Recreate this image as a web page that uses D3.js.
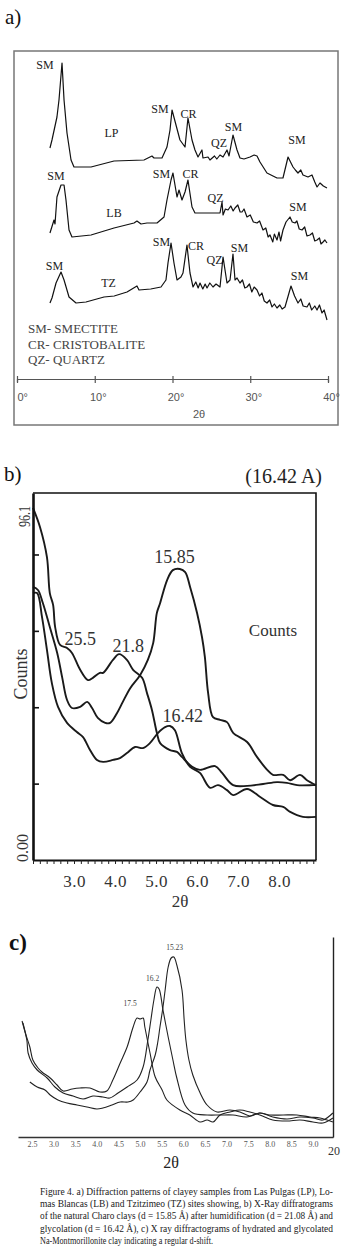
<!DOCTYPE html>
<html>
<head>
<meta charset="utf-8">
<script src="https://cdn.jsdelivr.net/npm/d3@7.9.0/dist/d3.min.js"></script>
<style>
  body { margin: 0; background: #fff; }
  svg { display: block; }
</style>
</head>
<body>
<svg id="fig"></svg>
<script>
// ---------- data: panel a (2theta in degrees, intensity in arbitrary stacked units) ----------
const lpTrace = [[4.24,91],[4.50,95],[5.14,106.5],[5.40,115],[5.79,133.5],[6.05,115],[6.43,98.5],[6.95,85],[7.33,81.5],[9.52,81.5],[12.48,84.5],[16.33,85],[17.36,87],[17.62,86],[18.65,86],[19.29,91.5],[19.68,100],[19.94,110],[20.96,95],[21.61,91.5],[21.99,106],[22.51,95],[22.89,90],[23.28,86.5],[23.79,90],[23.92,86],[24.57,86.5],[24.82,85],[25.4,87],[25.7,85.5],[26.11,87.5],[26.50,86.5],[27.01,90],[27.27,87],[27.78,97.5],[28.30,90],[28.68,86],[29.2,85.5],[29.97,86.5],[30.5,87.5],[30.87,87],[31.25,84],[32.15,78.5],[33.44,76],[34.21,76],[34.86,86.5],[35.50,81.5],[35.8,80],[36.14,78.5],[36.5,80],[36.78,77.5],[37.43,76.5],[37.94,77.5],[38.3,74],[38.59,71.5],[38.97,73.5],[39.4,72],[39.87,71]];
const lbTrace = [[4.24,48.5],[4.76,55],[4.89,53],[5.14,66.5],[5.66,72.5],[6.05,72.5],[6.30,65],[6.69,50],[7.07,46.5],[9.52,47.5],[12.48,51],[15.05,53.5],[15.43,54.5],[15.95,53],[16.72,53.5],[18.01,53.5],[18.91,56.5],[19.29,65],[19.81,75],[20.06,78.5],[20.58,66.5],[20.84,70],[21.22,65],[21.61,69],[21.99,75],[22.51,61.5],[22.89,58.5],[23.54,58.5],[24.44,58.5],[25.21,58.5],[26.11,58.5],[26.37,64],[26.50,57.5],[26.8,60.5],[27.14,60],[27.5,62],[27.8,59.5],[28.04,61],[28.4,62.5],[28.7,59],[28.94,59],[29.2,60.5],[29.58,56.5],[30.0,57.5],[30.4,54],[30.87,53.5],[31.2,54.5],[31.64,50],[32.0,51],[32.3,46.5],[32.54,47.5],[32.9,44],[33.1,48],[33.44,45],[33.7,49],[33.9,44.5],[34.21,50],[34.6,54],[35.11,56.5],[35.4,54],[35.76,53.5],[36.0,54.5],[36.3,50.5],[36.66,50],[37.0,51.5],[37.3,47],[37.68,47.5],[38.0,48.5],[38.3,44.5],[38.59,45],[38.9,46],[39.1,43],[39.36,44],[39.6,45],[39.87,43.5]];
const tzTrace = [[4.24,13.5],[4.50,16],[5.02,23.5],[5.66,29],[6.05,25],[6.69,16.5],[7.59,13.5],[8.87,14],[11.19,16.5],[12.5,17],[14.15,19],[15.43,22],[15.69,20],[17.2,20.5],[18.52,21.5],[19.16,25],[19.42,33.5],[19.81,43.5],[20.19,33.5],[20.58,25],[21.09,26.5],[21.35,28.5],[21.86,42.5],[22.25,28.5],[22.64,21.5],[23.0,24],[23.3,21],[23.54,23.5],[23.9,20.5],[24.2,23],[24.44,21],[24.8,23.5],[25.21,21.5],[25.6,23],[26.11,21.5],[26.50,36.5],[27.01,23.5],[27.40,25],[27.78,38],[28.04,25],[28.3,26],[28.68,23.5],[29.0,25],[29.3,21],[29.58,21.5],[29.9,23],[30.2,19],[30.5,21.5],[30.87,20],[31.2,17],[31.5,18.5],[31.8,14.5],[32.15,13.5],[32.5,15],[32.8,11.5],[33.1,13],[33.44,11],[33.8,12.5],[34.1,10.5],[34.47,11.5],[35.24,22],[35.7,17],[36.14,13.5],[36.5,15.5],[36.8,12],[37.30,11.5],[37.6,13.5],[37.9,10],[38.3,12],[38.59,10],[38.9,12.5],[39.23,8.5],[39.5,10],[39.87,5]];
const aPeakLabels = [["SM",3.60,130.5],["LP",12.15,96.5],["SM",18.39,108.5],["CR",22.06,106],["QZ",25.98,91.5],["SM",27.85,99.5],["SM",36.01,93],
  ["SM",5.02,75],["LB",12.48,56.5],["SM",18.59,76],["CR",22.32,76],["QZ",25.53,64],["SM",36.14,59.5],
  ["SM",4.82,30],["TZ",11.77,21.5],["SM",18.59,42],["CR",23.02,40],["QZ",25.40,33],["SM",28.62,39],["SM",36.33,25]];
const aLegend = ["SM- SMECTITE", "CR- CRISTOBALITE", "QZ- QUARTZ"];
const aTicks = [0, 10, 20, 30, 40];

// ---------- data: panel b (2theta, counts) ----------
const bHydrated = [[2.00,92.2],[2.17,87.2],[2.34,79.3],[2.41,69.9],[2.49,66.8],[2.54,61.0],[2.66,56.3],[2.83,55.5],[2.95,54.2],[3.15,49.8],[3.34,47.1],[3.46,47.7],[3.63,49.0],[3.71,49.0],[3.95,52.4],[4.10,53.9],[4.29,52.4],[4.44,49.8],[4.66,47.7],[4.78,43.7],[4.90,39.3],[5.02,33.3],[5.10,30.6],[5.34,28.8],[5.51,28.3],[5.63,27.0],[5.88,24.4],[6.07,23.6],[6.44,24.6],[6.61,22.8],[6.88,19.6],[7.22,19.4],[7.61,19.9],[7.95,20.4],[8.19,20.2],[8.44,19.6],[8.83,19.6],[8.90,19.6]];
const bNatural = [[2.00,71.5],[2.12,70.7],[2.24,67.3],[2.41,61.0],[2.59,54.2],[2.71,47.9],[2.83,41.9],[2.95,39.8],[3.15,40.1],[3.32,41.4],[3.44,39.8],[3.58,37.2],[3.76,35.9],[3.88,35.9],[4.05,38.5],[4.19,41.4],[4.37,45.0],[4.61,48.4],[4.80,52.4],[4.93,56.8],[5.02,64.7],[5.10,67.3],[5.27,73.3],[5.41,75.9],[5.58,76.2],[5.71,75.4],[5.83,71.5],[6.00,64.7],[6.12,58.4],[6.19,53.2],[6.27,43.7],[6.39,37.4],[6.56,36.7],[6.73,36.1],[6.88,33.3],[7.22,30.9],[7.46,27.0],[7.71,23.6],[7.85,22.3],[8.10,22.3],[8.27,20.9],[8.51,22.3],[8.68,20.9],[8.90,19.6]];
const bGlycol = [[2.00,69.9],[2.10,69.9],[2.22,63.6],[2.34,55.0],[2.46,46.3],[2.61,40.1],[2.83,35.9],[3.07,33.5],[3.22,32.2],[3.39,28.8],[3.56,26.2],[3.71,25.7],[3.95,26.2],[4.12,26.7],[4.29,28.0],[4.49,29.6],[4.68,29.3],[4.85,30.6],[5.05,33.3],[5.22,34.8],[5.34,35.1],[5.46,34.0],[5.63,28.0],[5.83,24.4],[6.07,22.8],[6.32,18.9],[6.51,19.6],[6.73,18.3],[6.88,17.0],[7.22,18.6],[7.54,16.5],[7.85,14.4],[8.10,13.9],[8.27,12.6],[8.58,11.3],[8.90,11.3]];
const bPeakLabels = [["15.85",5.45,77.8],["25.5",3.15,56.3],["21.8",4.32,54.5],["16.42",5.65,36.1]];
const bTicks = [3, 4, 5, 6, 7, 8];
const bCountTicks = [20, 40, 60, 80];

// ---------- data: panel c (2theta, intensity) ----------
const c175 = [[2.27,58],[2.36,51],[2.45,45],[2.52,38.5],[2.64,34.5],[2.73,32.5],[2.92,29.5],[3.08,26],[3.22,23],[3.43,24],[3.61,24.5],[3.84,24.5],[4.07,22.5],[4.23,23],[4.37,28.5],[4.54,37],[4.70,45],[4.84,55],[4.93,59.5],[5.00,59],[5.07,59.5],[5.11,55],[5.23,42],[5.35,30],[5.51,23.5],[5.62,18.5],[5.92,13.5],[6.15,11],[6.39,7.5],[6.55,8.5],[6.69,7.5],[6.85,11],[7.08,12.5],[7.31,13.5],[7.54,12.5],[7.77,11],[8.07,8.5],[8.40,8],[8.70,8.5],[9.00,7.5],[9.23,7],[9.46,9.5]];
const c162 = [[2.29,57],[2.38,48.5],[2.41,42],[2.50,37],[2.62,33.5],[2.85,29.5],[3.03,25],[3.22,22],[3.45,20.5],[3.68,19],[3.91,20.5],[4.14,20],[4.30,19.5],[4.49,22],[4.70,25],[4.93,28.5],[5.07,35],[5.18,48.5],[5.25,58.5],[5.32,68.5],[5.39,75],[5.44,74],[5.53,63.5],[5.65,50],[5.76,38.5],[5.85,29.5],[6.04,16],[6.22,12],[6.55,11],[6.85,11],[7.15,11],[7.47,10],[7.77,12],[8.07,10],[8.40,9],[8.70,10],[9.00,9.5],[9.23,8.5],[9.46,12]];
const c1523 = [[2.45,27.5],[2.62,25],[2.80,23.5],[2.92,21],[3.10,18.5],[3.31,17],[3.54,16],[3.77,15],[4.00,14],[4.14,14.5],[4.35,16],[4.54,17.5],[4.72,17.5],[4.84,18.5],[5.00,22.5],[5.16,27.5],[5.23,33.5],[5.35,41],[5.41,47.5],[5.46,55],[5.53,65],[5.58,73.5],[5.65,85],[5.72,89.5],[5.78,90],[5.85,86],[5.97,73.5],[6.02,58.5],[6.06,48.5],[6.13,38.5],[6.22,31],[6.39,22],[6.55,16],[6.78,12.5],[7.08,13.5],[7.31,12.5],[7.54,10.5],[7.77,12],[8.00,11],[8.31,11],[8.63,11],[8.93,10],[9.16,9.5],[9.46,7.5]];
const cPeakLabels = [["15.23",5.80,93.5],["16.2",5.29,78],["17.5",4.77,65.5]];
const cTicks = [2.5,3.0,3.5,4.0,4.5,5.0,5.5,6.0,6.5,7.0,7.5,8.0,8.5,9.0];

const captionLines = [
  "Figure 4. a) Diffraction patterns of clayey samples from Las Pulgas (LP), Lo-",
  "mas Blancas (LB) and Tzitzimeo (TZ) sites showing, b) X-Ray diffratograms",
  "of the natural Charo clays (d = 15.85 Å) after humidification (d = 21.08 Å) and",
  "glycolation (d = 16.42 Å), c) X ray diffractograms of hydrated and glycolated",
  "Na-Montmorillonite clay indicating a regular d-shift."
];

// ---------- setup ----------
const serif = "'Liberation Serif', 'Times New Roman', serif";
const sans = "'Liberation Sans', Arial, sans-serif";

const svg = d3.select("#fig").attr("width", 349).attr("height", 1257);

// panel letters
svg.append("text").attr("x", 5).attr("y", 24).text("a)")
  .attr("font-family", serif).attr("font-size", 21).attr("fill", "#111");
svg.append("text").attr("x", 4).attr("y", 481).text("b)")
  .attr("font-family", serif).attr("font-size", 21).attr("fill", "#111");
svg.append("text").attr("x", 9).attr("y", 950).text("c)")
  .attr("font-family", serif).attr("font-size", 23).attr("font-weight", "bold").attr("fill", "#111");

// ================= panel a =================
const xA = d3.scaleLinear().domain([0, 40]).range([17, 328]);
const yA = d3.scaleLinear().domain([0, 140]).range([330, 50]);

svg.append("rect")
  .attr("x", 14).attr("y", 51).attr("width", 324).attr("height", 374)
  .attr("fill", "none").attr("stroke", "#777").attr("stroke-width", 1.5);

const lineA = d3.line().x(d => xA(d[0])).y(d => yA(d[1]));
[lpTrace, lbTrace, tzTrace].forEach(tr => {
  svg.append("path").datum(tr)
    .attr("d", lineA)
    .attr("fill", "none").attr("stroke", "#111").attr("stroke-width", 1.2)
    .attr("stroke-linejoin", "round");
});

svg.append("g").selectAll("text")
  .data(aPeakLabels)
  .enter().append("text")
  .attr("x", d => xA(d[1]))
  .attr("y", d => yA(d[2]))
  .attr("text-anchor", "middle")
  .attr("font-family", serif).attr("font-size", 12).attr("fill", "#222")
  .text(d => d[0]);

svg.append("g").selectAll("text")
  .data(aLegend)
  .enter().append("text")
  .attr("x", 28)
  .attr("y", (d, i) => 333 + i * 15.5)
  .attr("font-family", serif).attr("font-size", 13).attr("fill", "#444")
  .text(d => d);

const axA = svg.append("g").attr("transform", "translate(0,379)")
  .call(d3.axisBottom(xA).tickValues(aTicks).tickFormat(d => d + "°").tickSizeOuter(0).tickSize(3));
axA.select(".domain").attr("stroke", "#555").attr("stroke-width", 1.2);
axA.selectAll(".tick line").attr("y1", -3).attr("y2", 4).attr("stroke", "#555").attr("stroke-width", 1.2);
axA.selectAll(".tick text")
  .attr("y", 22).attr("dy", 0).attr("dx", d => d === 0 ? 0 : 3)
  .attr("text-anchor", d => d === 0 ? "start" : "middle")
  .attr("font-family", sans).attr("font-size", 11).attr("fill", "#555");
svg.append("text").attr("x", 199).attr("y", 418).attr("text-anchor", "middle")
  .attr("font-family", sans).attr("font-size", 11).attr("fill", "#555").text("2θ");

// ================= panel b =================
const xB = d3.scaleLinear().domain([2.0, 8.9]).range([33, 316]);
const yB = d3.scaleLinear().domain([0, 96.1]).range([860, 493]);

svg.append("text").attr("x", 322).attr("y", 483).attr("text-anchor", "end")
  .attr("font-family", serif).attr("font-size", 20).attr("fill", "#222").text("(16.42 A)");

// frame top and right
svg.append("path")
  .attr("d", `M${xB(2.0)},${yB(96.1)}H${xB(8.9)}V${yB(0)}`)
  .attr("fill", "none").attr("stroke", "#111").attr("stroke-width", 1.6);

const lineB = d3.line().x(d => xB(d[0])).y(d => yB(d[1])).curve(d3.curveCatmullRom.alpha(0.5));
[bHydrated, bNatural, bGlycol].forEach(tr => {
  svg.append("path").datum(tr)
    .attr("d", lineB)
    .attr("fill", "none").attr("stroke", "#1a1a1a").attr("stroke-width", 1.9);
});

const axBl = svg.append("g").attr("transform", `translate(${xB(2.0)},0)`)
  .call(d3.axisLeft(yB).tickValues(bCountTicks).tickSize(-6).tickSizeOuter(0).tickFormat(""));
axBl.select(".domain").attr("stroke", "#111").attr("stroke-width", 2.6);
axBl.selectAll(".tick line").attr("stroke", "#111").attr("stroke-width", 1.6);

const axBb = svg.append("g").attr("transform", `translate(0,${yB(0)})`)
  .call(d3.axisBottom(xB).tickValues(bTicks).tickFormat(d3.format(".1f")).tickSize(0).tickSizeOuter(0));
axBb.select(".domain").attr("stroke", "#111").attr("stroke-width", 2.2);
axBb.selectAll(".tick text")
  .attr("y", 27).attr("dy", 0)
  .attr("font-family", serif).attr("font-size", 17).attr("fill", "#333")
  .attr("letter-spacing", 0.5);

const minorB = d3.range(2.0, 8.91, 1 / 6);
svg.append("g").attr("transform", `translate(0,${yB(0)})`)
  .call(d3.axisBottom(xB).tickValues(minorB).tickSize(4).tickFormat("").tickSizeOuter(0))
  .call(g => g.select(".domain").remove())
  .selectAll(".tick line").attr("stroke", "#222").attr("stroke-width", 1);

svg.append("text").attr("transform", "translate(30,506) rotate(-90)")
  .attr("text-anchor", "end").attr("font-family", serif).attr("font-size", 16)
  .attr("textLength", 21).attr("lengthAdjust", "spacingAndGlyphs")
  .attr("fill", "#333").text("96.1");
svg.append("text").attr("transform", "translate(28,862) rotate(-90)")
  .attr("text-anchor", "start").attr("font-family", serif).attr("font-size", 16)
  .attr("fill", "#333").text("0.00");
svg.append("text").attr("transform", "translate(27,674) rotate(-90)")
  .attr("text-anchor", "middle").attr("font-family", serif).attr("font-size", 18)
  .attr("fill", "#333").text("Counts");

svg.append("g").selectAll("text")
  .data(bPeakLabels)
  .enter().append("text")
  .attr("x", d => xB(d[1]))
  .attr("y", d => yB(d[2]))
  .attr("text-anchor", "middle")
  .attr("font-family", serif).attr("font-size", 18).attr("fill", "#333")
  .text(d => d[0]);

svg.append("text").attr("x", xB(7.85)).attr("y", yB(58.7)).attr("text-anchor", "middle")
  .attr("font-family", serif).attr("font-size", 17).attr("fill", "#333").text("Counts");
svg.append("text").attr("x", 180).attr("y", 907).attr("text-anchor", "middle")
  .attr("font-family", serif).attr("font-size", 17).attr("fill", "#333").text("2θ");

// ================= panel c =================
const xC = d3.scaleLinear().domain([2.176, 9.463]).range([18, 333]);
const yC = d3.scaleLinear().domain([0, 100]).range([1137, 937]);

const lineC = d3.line().x(d => xC(d[0])).y(d => yC(d[1])).curve(d3.curveCatmullRom.alpha(0.5));
[c175, c162, c1523].forEach(tr => {
  svg.append("path").datum(tr)
    .attr("d", lineC)
    .attr("fill", "none").attr("stroke", "#222").attr("stroke-width", 1.1);
});

const axCb = svg.append("g").attr("transform", `translate(0,${yC(0)})`)
  .call(d3.axisBottom(xC).tickValues(cTicks).tickFormat(d3.format(".1f")).tickSize(0).tickSizeOuter(0));
axCb.select(".domain").attr("stroke", "#333").attr("stroke-width", 1.4);
axCb.selectAll(".tick text")
  .attr("y", 10).attr("dy", 0)
  .attr("font-family", serif).attr("font-size", 8).attr("fill", "#555");

const axCr = svg.append("g").attr("transform", `translate(${xC(9.463)},0)`)
  .call(d3.axisRight(yC).tickValues([]).tickSizeOuter(0));
axCr.select(".domain").attr("stroke", "#222").attr("stroke-width", 1.4);

svg.append("g").selectAll("text")
  .data(cPeakLabels)
  .enter().append("text")
  .attr("x", d => xC(d[1]))
  .attr("y", d => yC(d[2]))
  .attr("text-anchor", "middle")
  .attr("font-family", serif).attr("font-size", 7.5).attr("fill", "#444")
  .text(d => d[0]);

svg.append("text").attr("x", 334).attr("y", 1155).attr("text-anchor", "middle")
  .attr("font-family", serif).attr("font-size", 12).attr("fill", "#333").text("20");
svg.append("text").attr("x", 171).attr("y", 1168).attr("text-anchor", "middle")
  .attr("font-family", serif).attr("font-size", 16).attr("fill", "#222").text("2θ");

// ================= caption =================
svg.append("g").selectAll("text")
  .data(captionLines)
  .enter().append("text")
  .attr("x", 40)
  .attr("y", (d, i) => 1195 + i * 12.2)
  .attr("textLength", (d, i) => i < 4 ? 293 : 173)
  .attr("lengthAdjust", "spacingAndGlyphs")
  .attr("font-family", serif).attr("font-size", 9.4).attr("fill", "#222")
  .text(d => d);
</script>
</body>
</html>
